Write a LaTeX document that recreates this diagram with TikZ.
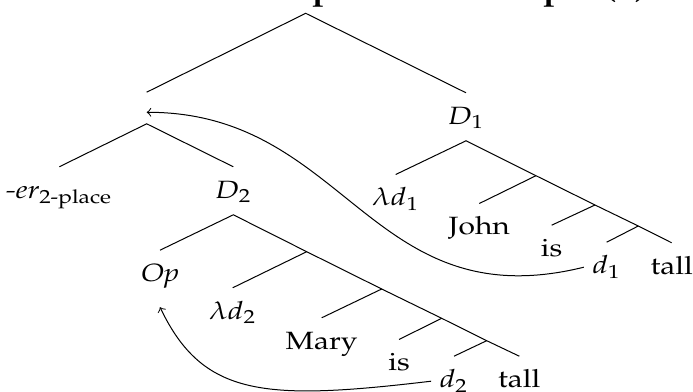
\documentclass[tikz,border=0pt]{standalone}
\usepackage[T1]{fontenc}
\usepackage{mathpazo}
\usepackage{amsmath}
\usepackage{graphicx}
\newcommand{\hstretch}[1]{\scalebox{1.2}[1]{#1}}
\tikzset{
  lab/.style={anchor=base, inner sep=0pt, text height=12.4pt, text depth=6.4pt},
  emptynode/.style={anchor=base, inner sep=0pt, text height=7.84pt, text depth=4.4pt, minimum width=0pt},
  captionstyle/.style={anchor=base west, inner sep=0pt, font=\fontsize{12.1}{14}\selectfont\bfseries},
  branch/.style={line width=0.4pt},
  movement/.style={->, line width=0.4pt},
}
\begin{document}
\begin{tikzpicture}[x=0.4pt,y=-0.4pt]
\useasboundingbox (0,0) rectangle (693,392);
\clip (0,0) rectangle (693,392);
% caption (cut off at top)
\node[captionstyle] (cap) at (10,0) {\hstretch{LF for clausal comparative example (5).}};
% tree 1
\coordinate (root) at (305.7,13.3);
\node[emptynode] (n1) at (146.7,112.3) {};
\node[lab] (er) at (59.3,198.3) {\hstretch{\textit{-er}$_{\text{2-place}}$}};
\node[lab] (D2) at (233.3,198.3) {\hstretch{$D_2$}};
\node[lab] (D1) at (466,124.3) {\hstretch{$D_1$}};
\node[lab] (ld1) at (395.7,206) {\hstretch{$\lambda d_1$}};
\node[lab] (John) at (479.3,235) {\hstretch{John}};
\node[lab] (is1) at (551.7,256.7) {\hstretch{is}};
\node[lab] (d1) at (606.7,273.7) {\hstretch{$d_1$}};
\node[lab] (tall1) at (671.7,274.3) {\hstretch{tall}};
\coordinate (b1) at (536,175.7);
\coordinate (b2) at (595,205);
\coordinate (b3) at (638.3,226);
% tree 2
\node[lab] (Op) at (160,281.7) {\hstretch{$\mathit{Op}$}};
\node[lab] (ld2) at (232.7,319.3) {\hstretch{$\lambda d_2$}};
\node[lab] (Mary) at (321.7,349.3) {\hstretch{Mary}};
\node[lab] (is2) at (399,371) {\hstretch{is}};
\node[lab] (d2) at (454,387.7) {\hstretch{$d_2$}};
\node[lab] (tall2) at (519.3,387.7) {\hstretch{tall}};
\coordinate (b4) at (306.7,251.7);
\coordinate (b5) at (381.7,289);
\coordinate (b6) at (441.7,318.3);
\coordinate (b7) at (486.7,340.7);
% branches
\draw[branch] (n1.north) -- (root) -- (D1.north);
\draw[branch] (er.north) -- (n1.south) -- (D2.north);
\draw[branch] (ld1.north) -- (D1.south) -- (b1) -- (b2) -- (b3) -- (tall1.north);
\draw[branch] (b1) -- (John.north);
\draw[branch] (b2) -- (is1.north);
\draw[branch] (b3) -- (d1.north);
\draw[branch] (Op.north) -- (D2.south) -- (b4) -- (b5) -- (b6) -- (b7) -- (tall2.north);
\draw[branch] (b4) -- (ld2.north);
\draw[branch] (b5) -- (Mary.north);
\draw[branch] (b6) -- (is2.north);
\draw[branch] (b7) -- (d2.north);
% movement arrows
\draw[movement] ([xshift=-3.2pt,yshift=2.6pt]d1.base west) .. controls (370,320) and (347,112) .. (n1.base);
\draw[movement] ([xshift=-3.2pt,yshift=2.6pt]d2.base west) .. controls (264,401) and (203,397) .. ([yshift=-3.6pt]Op.south);
\end{tikzpicture}
\end{document}
